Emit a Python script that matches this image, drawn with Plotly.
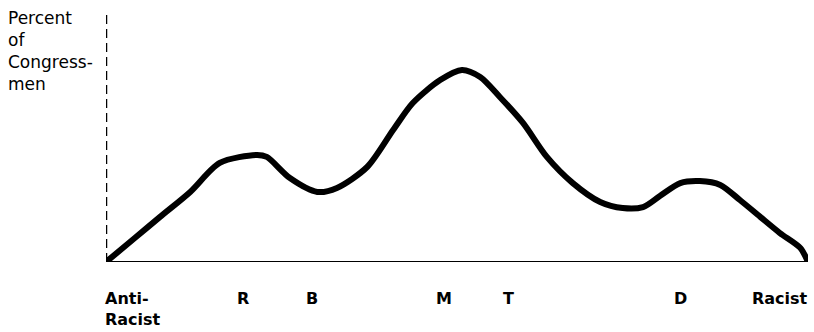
import plotly.graph_objects as go

# Curve (x: 0 = anti-racist end, 100 = racist end; y: relative percent of congressmen)
curve_x = [0, 4.1, 7.7, 12.0, 16.2, 21.5, 22.9, 26.2, 30.1, 32.9, 37.2, 40.9, 43.7,
           47.6, 50.7, 53.3, 56.1, 59.4, 62.8, 66.5, 70.4, 73.6, 76.5, 78.9, 81.8,
           84.6, 87.5, 90.3, 93.2, 96.0, 98.9, 100]
curve_y = [0, 9.5, 17.9, 27.8, 39.3, 42.5, 41.7, 33.3, 27.8, 29.4, 37.7, 52.4, 63.1,
           72.2, 76.2, 73.4, 65.5, 55.2, 41.7, 31.3, 23.8, 21.4, 21.8, 26.2, 31.3,
           32.1, 30.6, 24.6, 17.9, 11.5, 5.6, 0]

# Scale labels
letter_labels = ["R", "B", "M", "T", "D"]
letter_x = [19.5, 29.3, 48.1, 57.4, 81.8]
end_labels = ["Anti-<br>Racist", "Racist"]
end_x = [0, 100]
y_title = "Percent<br>of<br>Congress-<br>men"

fig = go.Figure()
fig.add_trace(go.Scatter(
    x=curve_x, y=curve_y, mode="lines",
    line=dict(color="black", width=6, shape="spline", smoothing=0.8),
    hoverinfo="skip", showlegend=False,
))

# Axes drawn as shapes
fig.add_shape(type="line", x0=0, x1=100, y0=0, y1=0, xref="x", yref="y",
              line=dict(color="black", width=2))
fig.add_shape(type="line", x0=0, x1=0, y0=0, y1=100, xref="x", yref="y",
              line=dict(color="black", width=2.5, dash="9px,5px"))

lab_font = dict(family="DejaVu Sans", size=16, color="black")
for t, x in zip(letter_labels, letter_x):
    fig.add_annotation(x=x, y=0, xref="x", yref="y", text="<b>" + t + "</b>",
                       showarrow=False, xanchor="center", yanchor="top",
                       yshift=-25, font=lab_font)
fig.add_annotation(x=end_x[0], y=0, xref="x", yref="y", text="<b>" + end_labels[0] + "</b>",
                   showarrow=False, xanchor="left", yanchor="top", align="left",
                   yshift=-25, xshift=-3, font=lab_font)
fig.add_annotation(x=end_x[1], y=0, xref="x", yref="y", text="<b>" + end_labels[1] + "</b>",
                   showarrow=False, xanchor="right", yanchor="top", align="right",
                   yshift=-25, xshift=2, font=lab_font)

fig.add_annotation(x=0, y=1, xref="paper", yref="paper", xshift=-100, yshift=4,
                   text=y_title, showarrow=False, xanchor="left", yanchor="top",
                   align="left", font=dict(family="DejaVu Sans", size=17, color="black"))

fig.update_xaxes(range=[0, 100], visible=False)
fig.update_yaxes(range=[0, 100], visible=False)
fig.update_layout(
    width=814, height=332,
    margin=dict(l=106, r=6, t=10, b=70),
    paper_bgcolor="white", plot_bgcolor="white",
)
fig.write_html("out.html", config={"displayModeBar": False},
               post_script="document.body.style.margin='0';")
